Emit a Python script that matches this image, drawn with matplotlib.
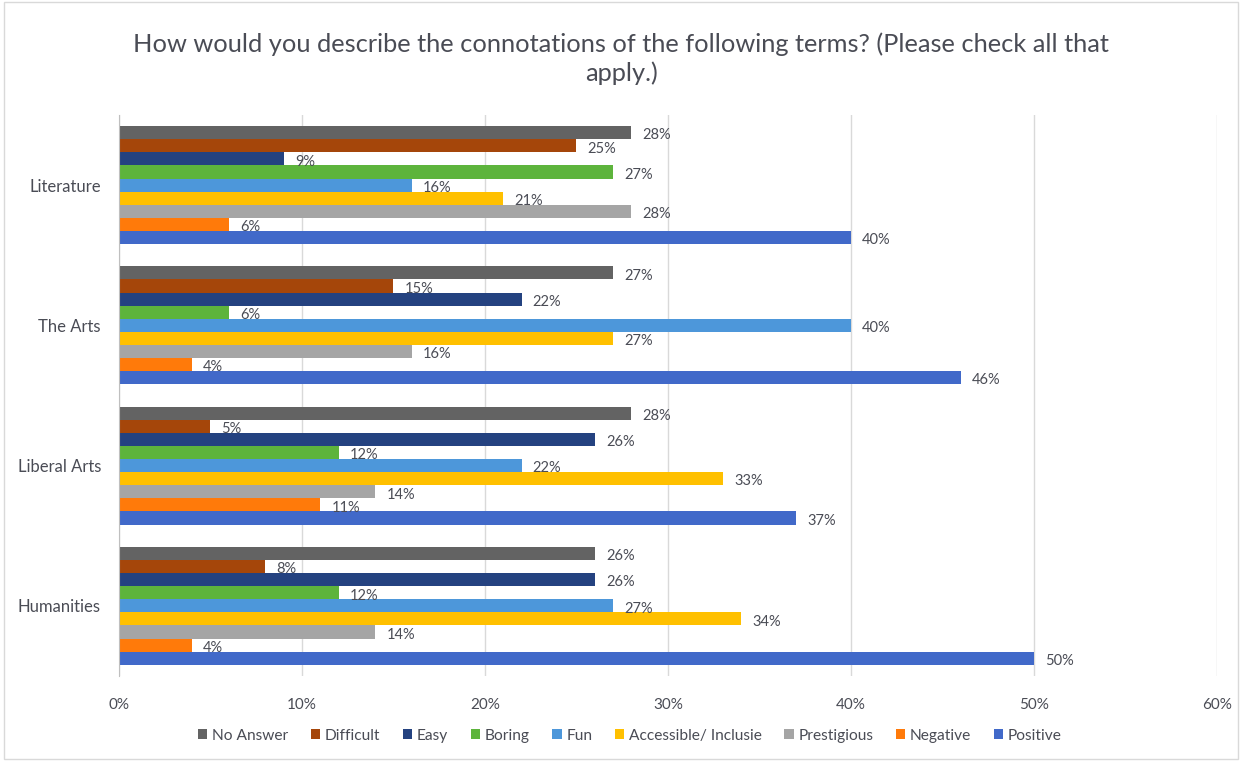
import numpy as np
import matplotlib
matplotlib.use('Agg')
import matplotlib.pyplot as plt
from matplotlib.patches import Rectangle

plt.rcParams['font.family'] = ['Lato', 'DejaVu Sans']

# data
categories = ['Humanities', 'Liberal Arts', 'The Arts', 'Literature']
series = ['No Answer', 'Difficult', 'Easy', 'Boring', 'Fun',
          'Accessible/ Inclusie', 'Prestigious', 'Negative', 'Positive']
colors = ['#636363', '#A5460A', '#244280', '#5DB43C', '#4D97DA',
          '#FFC000', '#A5A5A5', '#FF7A0A', '#4169C9']
# values per series, ordered Humanities, Liberal Arts, The Arts, Literature
no_answer = [26, 28, 27, 28]
difficult = [8, 5, 15, 25]
easy = [26, 26, 22, 9]
boring = [12, 12, 6, 27]
fun = [27, 22, 40, 16]
accessible = [34, 33, 27, 21]
prestigious = [14, 14, 16, 28]
negative = [4, 11, 4, 6]
positive = [50, 37, 46, 40]
values = [no_answer, difficult, easy, boring, fun, accessible, prestigious, negative, positive]

txt = '#4A4C55'

fig = plt.figure(figsize=(12.42, 7.61), dpi=100)
ax = fig.add_axes([0.0958, 0.1117, 0.884, 0.7373])

n = len(series)
h = 0.84 / n
y0 = np.arange(len(categories))
for i, (name, vals, c) in enumerate(zip(series, values, colors)):
    # first series at top of each group
    ypos = y0 + 0.42 - h * (i + 0.5)
    ax.barh(ypos, vals, height=h, color=c, label=name)
    for yy, v in zip(ypos, vals):
        ax.annotate(f'{v}%', (v, yy), xytext=(8, -2), textcoords='offset points',
                    va='center', ha='left', fontsize=10.5, color=txt)

ax.set_xlim(0, 60)
ax.set_ylim(-0.5, 3.5)
ax.set_xticks(np.arange(0, 61, 10))
ax.set_xticklabels([f'{t}%' for t in range(0, 61, 10)], fontsize=11, color=txt)
ax.set_yticks(y0)
ax.set_yticklabels(categories, fontsize=12, color=txt)
ax.tick_params(axis='both', length=0)
ax.tick_params(axis='x', pad=16)
ax.tick_params(axis='y', pad=13)
ax.grid(axis='x', color='#D9D9D9', linewidth=1)
ax.set_axisbelow(True)
for s in ['top', 'right', 'bottom']:
    ax.spines[s].set_visible(False)
ax.spines['left'].set_color('#BFBFBF')

fig.text(0.5, 0.923, 'How would you describe the connotations of the following terms? (Please check all that\napply.)',
         ha='center', va='center', fontsize=18.3, color=txt, linespacing=1.3)

leg = fig.legend(loc='center', bbox_to_anchor=(0.507, 0.033), ncol=9, frameon=False,
                 fontsize=11.2, handlelength=0.6, handleheight=0.6, handletextpad=0.3,
                 columnspacing=1.45, labelcolor=txt)

fig.patches.append(Rectangle((0.003, 0.003), 0.994, 0.994, transform=fig.transFigure,
                             fill=False, edgecolor='#D9D9D9', linewidth=1))

fig.savefig('out.png', dpi=100)
